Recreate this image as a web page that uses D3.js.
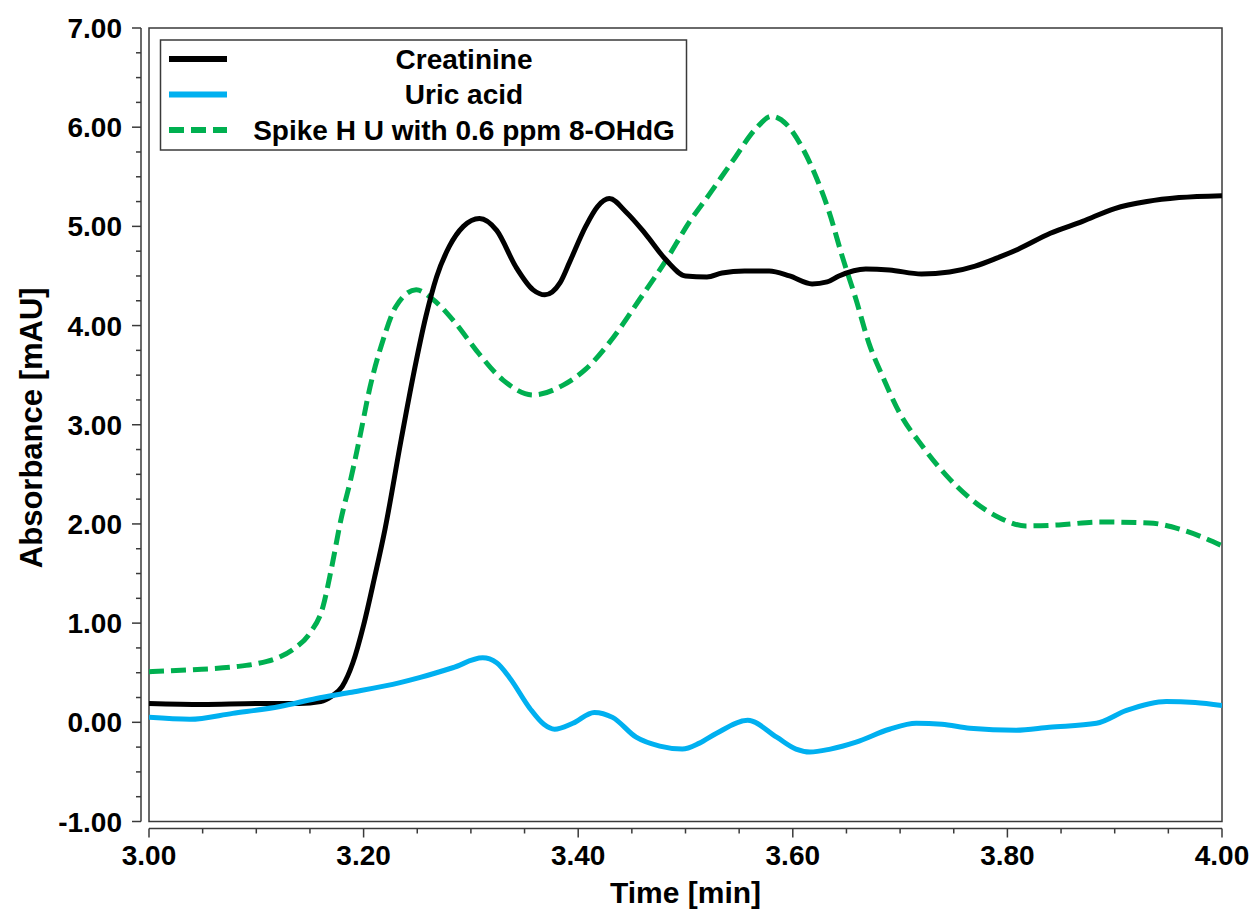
<!DOCTYPE html>
<html>
<head>
<meta charset="utf-8">
<script src="https://cdn.jsdelivr.net/npm/d3@7"></script>
<style>
  body { margin: 0; background: #fff; }
  text { font-family: "Liberation Sans", Arial, sans-serif; font-weight: bold; fill: #000; }
</style>
</head>
<body>
<svg id="chart" width="1255" height="915"></svg>
<script>
// time [min] and absorbance [mAU]
var creatT = [3.00,3.05,3.10,3.14,3.16,3.17,3.18,3.19,3.20,3.21,3.22,3.235,3.246,3.258,3.268,3.280,3.293,3.308,3.324,3.342,3.358,3.369,3.383,3.392,3.407,3.418,3.429,3.445,3.463,3.482,3.50,3.52,3.534,3.555,3.578,3.597,3.618,3.632,3.643,3.668,3.69,3.72,3.746,3.77,3.79,3.81,3.84,3.87,3.90,3.93,3.96,4.00];
var creatV = [0.19,0.18,0.19,0.19,0.21,0.26,0.36,0.60,0.98,1.45,1.95,2.85,3.48,4.09,4.49,4.80,5.00,5.08,4.96,4.59,4.36,4.31,4.43,4.64,5.00,5.20,5.28,5.14,4.92,4.66,4.50,4.49,4.53,4.55,4.55,4.50,4.42,4.44,4.50,4.57,4.56,4.52,4.54,4.60,4.68,4.77,4.93,5.05,5.18,5.25,5.29,5.31];

var uricT = [3.00,3.038,3.078,3.122,3.156,3.187,3.234,3.252,3.283,3.311,3.324,3.336,3.355,3.368,3.378,3.395,3.415,3.432,3.454,3.476,3.497,3.513,3.529,3.558,3.585,3.603,3.616,3.635,3.659,3.690,3.715,3.739,3.765,3.808,3.839,3.883,3.911,3.948,3.975,4.00];
var uricV = [0.05,0.03,0.09,0.16,0.24,0.30,0.40,0.45,0.55,0.65,0.60,0.45,0.14,-0.02,-0.07,-0.01,0.10,0.05,-0.15,-0.24,-0.27,-0.21,-0.11,0.02,-0.15,-0.27,-0.30,-0.27,-0.20,-0.07,-0.01,-0.02,-0.06,-0.08,-0.05,-0.01,0.12,0.21,0.20,0.17];

var spikeT = [3.00,3.04,3.08,3.10,3.12,3.135,3.15,3.162,3.170,3.179,3.188,3.196,3.206,3.218,3.230,3.249,3.265,3.286,3.305,3.330,3.358,3.386,3.407,3.432,3.457,3.482,3.504,3.522,3.544,3.566,3.580,3.594,3.609,3.622,3.634,3.646,3.659,3.671,3.684,3.699,3.721,3.743,3.765,3.793,3.817,3.848,3.886,3.932,3.963,4.00];
var spikeV = [0.51,0.53,0.56,0.59,0.65,0.74,0.90,1.16,1.55,2.05,2.45,2.85,3.38,3.85,4.19,4.36,4.26,4.02,3.75,3.45,3.30,3.40,3.56,3.87,4.26,4.66,5.05,5.32,5.66,5.99,6.11,6.03,5.79,5.49,5.14,4.70,4.26,3.82,3.48,3.13,2.78,2.49,2.26,2.06,1.98,1.99,2.02,2.01,1.94,1.78];

var seriesNames = ["Creatinine", "Uric acid", "Spike H U with 0.6 ppm 8-OHdG"];
var seriesColors = ["#000000", "#00b0f0", "#00b050"];
var xTicks = [3.00, 3.20, 3.40, 3.60, 3.80, 4.00];
var yTicks = [-1, 0, 1, 2, 3, 4, 5, 6, 7];

var svg = d3.select("#chart");
var pLeft = 149, pRight = 1222, pTop = 28, pBottom = 821.5;

var x = d3.scaleLinear().domain([3, 4]).range([pLeft, pRight]);
var y = d3.scaleLinear().domain([-1, 7]).range([pBottom, pTop]);

function zip(ts, vs) { return ts.map(function(t, i) { return [t, vs[i]]; }); }
var series = [zip(creatT, creatV), zip(uricT, uricV), zip(spikeT, spikeV)];

svg.append("clipPath").attr("id", "clip")
  .append("rect").attr("x", pLeft).attr("y", pTop).attr("width", pRight - pLeft).attr("height", pBottom - pTop);

// frame
svg.append("rect")
  .attr("x", pLeft).attr("y", pTop)
  .attr("width", pRight - pLeft).attr("height", pBottom - pTop)
  .attr("fill", "none").attr("stroke", "#3a3a3a").attr("stroke-width", 1.5);

// y axis, offset to the left of the frame
var yAxis = svg.append("g").attr("transform", "translate(141,0)");
yAxis.append("line").attr("x1", 0).attr("x2", 0).attr("y1", pTop).attr("y2", pBottom)
  .attr("stroke", "#3a3a3a").attr("stroke-width", 1.5);
yAxis.selectAll(".minor").data(d3.range(0, 33).map(function(i) { return -1 + i * 0.25; }))
  .enter().append("line")
  .attr("x1", function(d, i) { return i % 4 === 0 ? -9 : -5; }).attr("x2", 0)
  .attr("y1", function(d) { return y(d); }).attr("y2", function(d) { return y(d); })
  .attr("stroke", "#3a3a3a").attr("stroke-width", 1.5);
yAxis.selectAll("text").data(yTicks)
  .enter().append("text")
  .attr("x", -19).attr("y", function(d) { return y(d); })
  .attr("dy", "0.36em").attr("text-anchor", "end")
  .attr("font-size", 28)
  .text(function(d) { return d.toFixed(2); });

// x axis, offset below the frame
var xAxis = svg.append("g").attr("transform", "translate(0,828.5)");
xAxis.append("line").attr("x1", pLeft).attr("x2", pRight).attr("y1", 0).attr("y2", 0)
  .attr("stroke", "#3a3a3a").attr("stroke-width", 1.5);
xAxis.selectAll(".minor").data(d3.range(0, 21).map(function(i) { return 3 + i * 0.05; }))
  .enter().append("line")
  .attr("x1", function(d) { return x(d); }).attr("x2", function(d) { return x(d); })
  .attr("y1", 0).attr("y2", function(d, i) { return i % 4 === 0 ? 9 : 5; })
  .attr("stroke", "#3a3a3a").attr("stroke-width", 1.5);
xAxis.selectAll("text").data(xTicks)
  .enter().append("text")
  .attr("x", function(d) { return x(d); }).attr("y", 36)
  .attr("text-anchor", "middle")
  .attr("font-size", 28)
  .text(function(d) { return d.toFixed(2); });

// axis titles
svg.append("text").attr("x", (pLeft + pRight) / 2).attr("y", 903)
  .attr("text-anchor", "middle").attr("font-size", 30).text("Time [min]");
svg.append("text").attr("transform", "translate(42," + ((pTop + pBottom) / 2 + 3) + ") rotate(-90)")
  .attr("text-anchor", "middle").attr("font-size", 31).text("Absorbance [mAU]");

// curves
var line = d3.line()
  .x(function(d) { return x(d[0]); })
  .y(function(d) { return y(d[1]); })
  .curve(d3.curveMonotoneX);

var plot = svg.append("g").attr("clip-path", "url(#clip)");
[2, 0, 1].forEach(function(i) {
  plot.append("path")
    .datum(series[i])
    .attr("d", line)
    .attr("fill", "none")
    .attr("stroke", seriesColors[i])
    .attr("stroke-width", 5)
    .attr("stroke-dasharray", i === 2 ? "15,7" : null)
    .attr("stroke-linejoin", "round");
});

// legend
var legend = svg.append("g");
legend.append("rect").attr("x", 160.5).attr("y", 40).attr("width", 526).attr("height", 110)
  .attr("fill", "#fff").attr("stroke", "#3a3a3a").attr("stroke-width", 1.5);
var rows = legend.selectAll(".row").data(seriesNames).enter().append("g")
  .attr("transform", function(d, i) { return "translate(0," + (59 + i * 35.5) + ")"; });
rows.append("line").attr("x1", 169).attr("x2", 227).attr("y1", 0).attr("y2", 0)
  .attr("stroke", function(d, i) { return seriesColors[i]; })
  .attr("stroke-width", 6)
  .attr("stroke-dasharray", function(d, i) { return i === 2 ? "15,7" : null; });
rows.append("text").attr("x", 464).attr("y", 0).attr("dy", "0.34em")
  .attr("text-anchor", "middle").attr("font-size", 28)
  .text(function(d) { return d; });
</script>
</body>
</html>
